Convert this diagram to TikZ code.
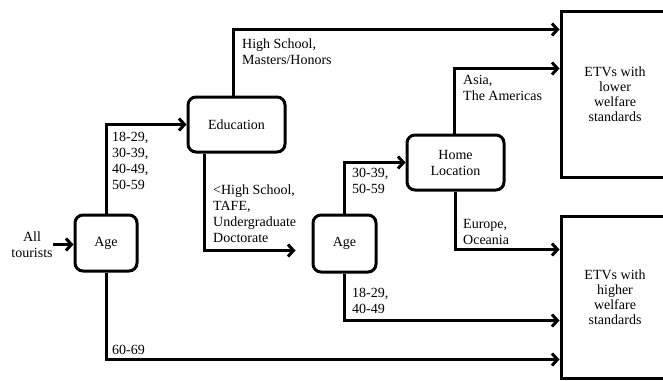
\documentclass[tikz,border=0pt]{standalone}
\usepackage{fontspec}
\setmainfont{Liberation Serif}
\usetikzlibrary{arrows.meta}

\begin{document}
\begin{tikzpicture}[x=1pt,y=-1pt,
  every node/.style={font=\fontsize{14}{16}\selectfont},
  decision/.style={draw,line width=3pt,rounded corners=8pt,align=center,inner sep=0pt},
  outcome/.style={draw,line width=3pt,align=center,inner sep=0pt,font=\fontsize{14}{15}\selectfont},
  branch/.style={anchor=north west,align=left,inner sep=0pt},
  flow/.style={line width=3pt,-{Straight Barb[length=5.5pt,width=12pt]}}]

\useasboundingbox (0,0) rectangle (663,380);
\clip (0,0) rectangle (663,380);

\node[decision,minimum width=62pt,minimum height=56pt] (age1) at (106,243) {Age};
\node[decision,minimum width=97pt,minimum height=55pt] (edu) at (236.5,124.5) {Education};
\node[decision,minimum width=63pt,minimum height=57pt] (age2) at (344.5,243.5) {Age};
\node[decision,minimum width=97pt,minimum height=55pt] (home) at (455.5,162.5) {Home\\Location};
\node[outcome,minimum width=108pt,minimum height=166pt] (lower) at (615,94) {ETVs with\\lower\\welfare\\standards};
\node[outcome,minimum width=108pt,minimum height=162pt] (higher) at (615,297) {ETVs with\\higher\\welfare\\standards};
\node[align=center,inner sep=0pt] (tourists) at (32,244.5) {All\\tourists};

\node[branch] (hs) at (242,39) {High School,\\Masters/Honors};
\node[branch] (young) at (112,132) {18-29,\\30-39,\\40-49,\\50-59};
\node[branch] (lowedu) at (213,185) {<High School,\\TAFE,\\Undergraduate\\Doctorate};
\node[branch] (mid) at (352,168) {30-39,\\50-59};
\node[branch] (asia) at (463,75) {Asia,\\The Americas};
\node[branch] (europe) at (463,219) {Europe,\\Oceania};
\node[branch] (mixed) at (352,288) {18-29,\\40-49};
\node[branch] (old) at (112,345) {60-69};

\draw[flow] (tourists.east) -- (tourists.east -| age1.west);
\draw[flow] (age1.north) |- (edu.west);
\draw[flow] ([xshift=-3.5pt]edu.north) |- ([yshift=-20pt]lower.north west);
\draw[flow,shorten >=16pt] ([xshift=-32.5pt]edu.south) |- ([yshift=-7pt]age2.west);
\draw[flow] (age2.north) |- (home.west);
\draw[flow] ([xshift=-1.5pt]home.north) |- ([yshift=-59pt]lower.north west);
\draw[flow] (home.south) |- ([yshift=-35pt]higher.north west);
\draw[flow] (age2.south) |- ([yshift=-106pt]higher.north west);
\draw[flow] (age1.south) |- ([yshift=-145pt]higher.north west);

\end{tikzpicture}
\end{document}
